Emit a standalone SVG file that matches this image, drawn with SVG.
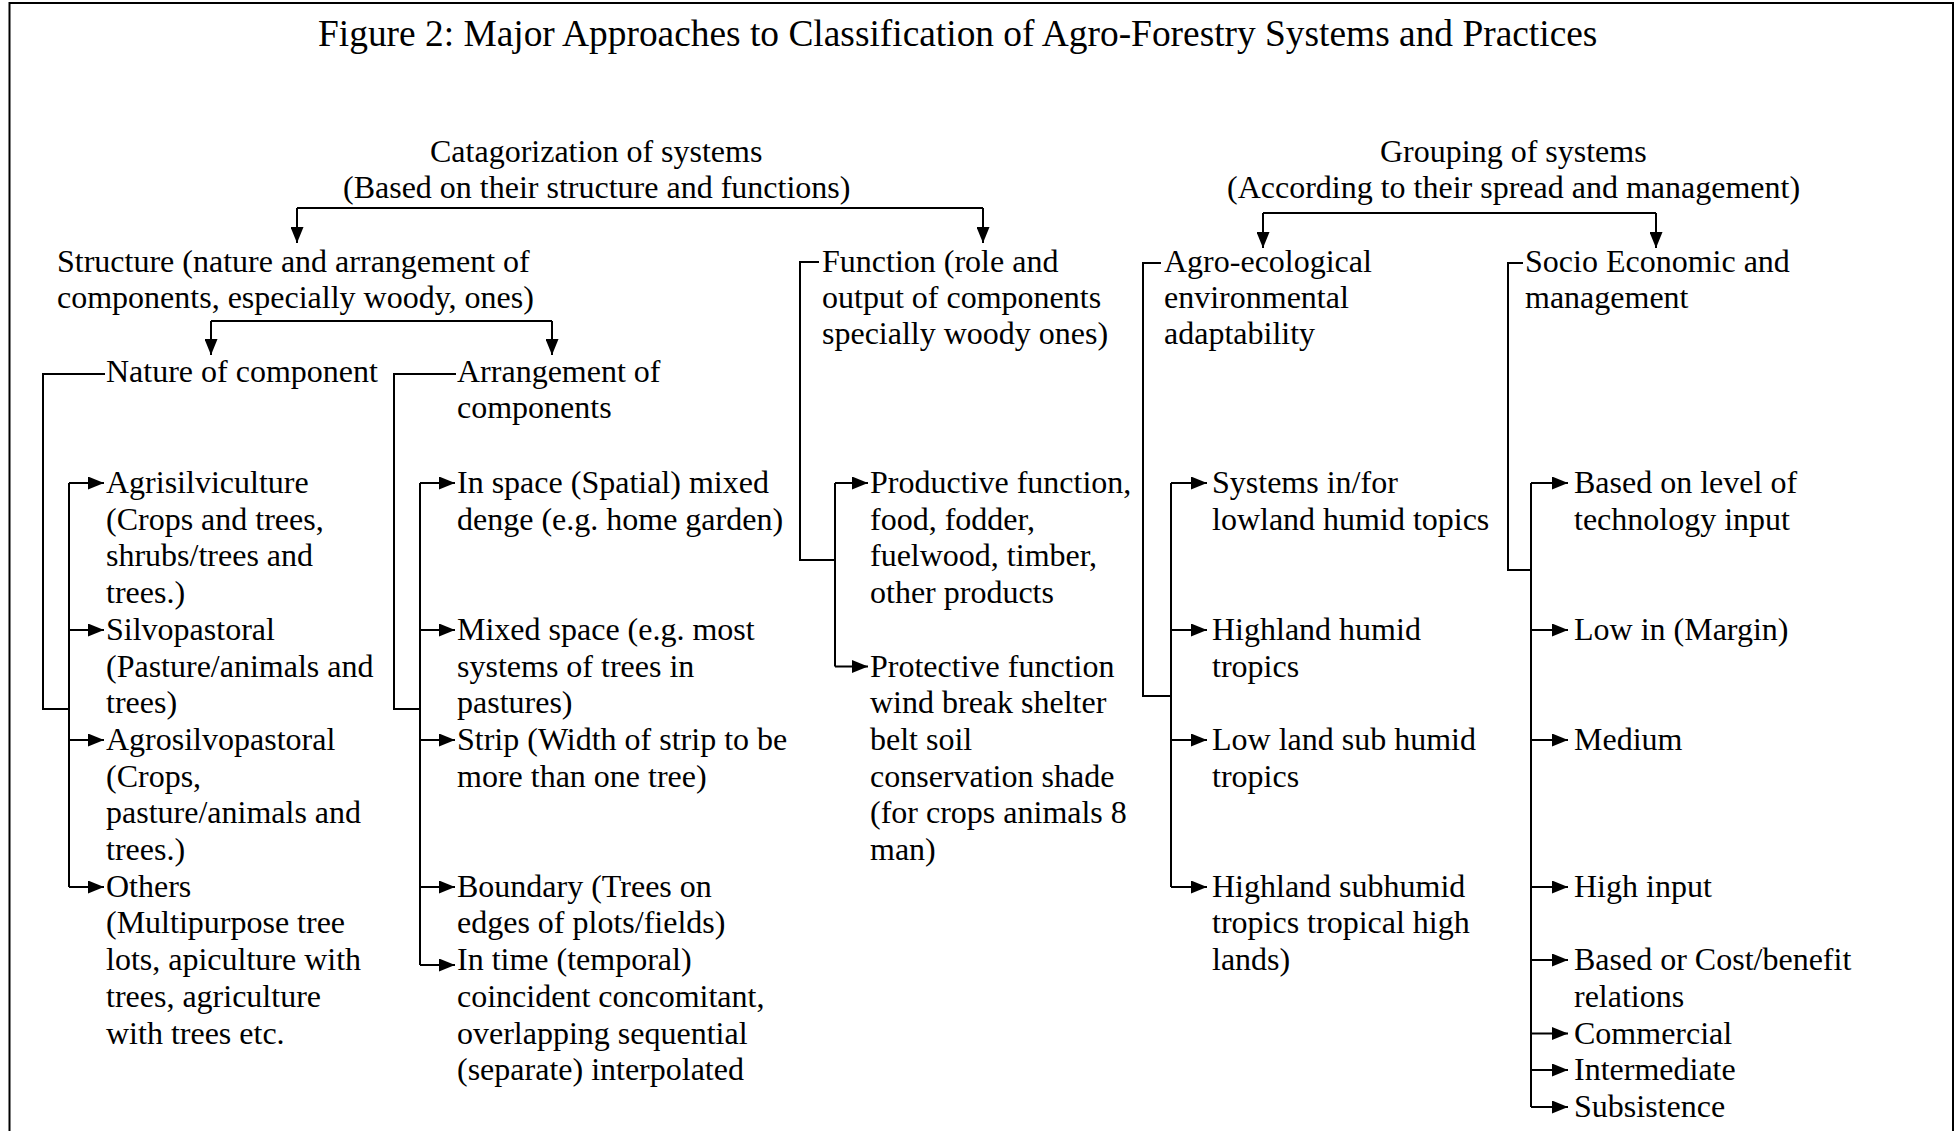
<svg xmlns="http://www.w3.org/2000/svg" width="1957" height="1131" viewBox="0 0 1957 1131">
  <style>
    .t { font-family: "Liberation Serif", "Times New Roman", serif; font-size: 32px; fill: #000; }
    .title { font-family: "Liberation Serif", "Times New Roman", serif; font-size: 37.4px; fill: #000; }
    .ln { fill: none; stroke: #000; stroke-width: 2; }
    .ar { fill: none; stroke: #000; stroke-width: 2; marker-end: url(#ah); }
  </style>
  <defs>
    <marker id="ah" viewBox="0 0 16 13" refX="16" refY="6.5" markerWidth="16" markerHeight="13" markerUnits="userSpaceOnUse" orient="auto">
      <path d="M0,0 L16,6.5 L0,13 z" fill="#000"/>
    </marker>
  </defs>

  <rect width="1957" height="1131" fill="#fff"/>
  <!-- outer frame (open at the bottom edge) -->
  <path class="ln" d="M9.5,1140 V3 H1953 V1140" stroke-width="2.2"/>

  <text id="title" class="title" x="318" y="46">Figure 2: Major Approaches to Classification of Agro-Forestry Systems and Practices</text>

  <!-- connectors -->
  <g id="connectors">
    <!-- categorization split -->
    <path class="ln" d="M297,208 H983"/>
    <path class="ar" d="M297,208 V243"/>
    <path class="ar" d="M983,208 V243"/>
    <!-- grouping split -->
    <path class="ln" d="M1263,213 H1656"/>
    <path class="ar" d="M1263,213 V248"/>
    <path class="ar" d="M1656,213 V248"/>
    <!-- structure split -->
    <path class="ln" d="M211,321 H552"/>
    <path class="ar" d="M211,321 V355"/>
    <path class="ar" d="M552,321 V355"/>

    <!-- nature of component -->
    <path class="ln" d="M105,374 H43 V709 H69"/>
    <path class="ln" d="M69,483 V887"/>
    <path class="ar" d="M69,483 H104"/>
    <path class="ar" d="M69,630 H104"/>
    <path class="ar" d="M69,740 H104"/>
    <path class="ar" d="M69,887 H104"/>

    <!-- arrangement of components -->
    <path class="ln" d="M456,374 H394 V709 H420"/>
    <path class="ln" d="M420,483 V965"/>
    <path class="ar" d="M420,483 H455"/>
    <path class="ar" d="M420,630 H455"/>
    <path class="ar" d="M420,740 H455"/>
    <path class="ar" d="M420,887 H455"/>
    <path class="ar" d="M420,965 H455"/>

    <!-- function -->
    <path class="ln" d="M819,262 H800 V560 H835"/>
    <path class="ln" d="M835,483 V666.5"/>
    <path class="ar" d="M835,483 H868"/>
    <path class="ar" d="M835,666.5 H868"/>

    <!-- agro-ecological -->
    <path class="ln" d="M1161,263 H1143 V696 H1171"/>
    <path class="ln" d="M1171,483 V887"/>
    <path class="ar" d="M1171,483 H1207"/>
    <path class="ar" d="M1171,630 H1207"/>
    <path class="ar" d="M1171,740 H1207"/>
    <path class="ar" d="M1171,887 H1207"/>

    <!-- socio economic -->
    <path class="ln" d="M1523,263 H1508 V570 H1531"/>
    <path class="ln" d="M1531,483 V1107"/>
    <path class="ar" d="M1531,483 H1568"/>
    <path class="ar" d="M1531,630 H1568"/>
    <path class="ar" d="M1531,740 H1568"/>
    <path class="ar" d="M1531,887 H1568"/>
    <path class="ar" d="M1531,960 H1568"/>
    <path class="ar" d="M1531,1033.5 H1568"/>
    <path class="ar" d="M1531,1070 H1568"/>
    <path class="ar" d="M1531,1107 H1568"/>
  </g>

  <!-- top-level headings -->
  <g id="categorization">
    <text class="t" x="430" y="162">Catagorization of systems</text>
    <text class="t" x="343" y="198">(Based on their structure and functions)</text>
  </g>
  <g id="grouping">
    <text class="t" x="1380" y="162">Grouping of systems</text>
    <text class="t" x="1227" y="198">(According to their spread and management)</text>
  </g>

  <!-- second level -->
  <g id="structure">
    <text class="t" x="57" y="272">Structure (nature and arrangement of</text>
    <text class="t" x="57" y="308">components, especially woody, ones)</text>
  </g>
  <g id="function">
    <text class="t" x="822" y="272">Function (role and</text>
    <text class="t" x="822" y="308">output of components</text>
    <text class="t" x="822" y="344">specially woody ones)</text>
  </g>
  <g id="agro-ecological">
    <text class="t" x="1164" y="272">Agro-ecological</text>
    <text class="t" x="1164" y="308">environmental</text>
    <text class="t" x="1164" y="344">adaptability</text>
  </g>
  <g id="socio-economic">
    <text class="t" x="1525" y="272">Socio Economic and</text>
    <text class="t" x="1525" y="308">management</text>
  </g>

  <!-- third level under structure -->
  <g id="nature">
    <text class="t" x="106" y="382">Nature of component</text>
  </g>
  <g id="arrangement">
    <text class="t" x="457" y="382">Arrangement of</text>
    <text class="t" x="457" y="418">components</text>
  </g>

  <!-- nature of component: leaves -->
  <g id="agrisilviculture">
    <text class="t" x="106" y="493">Agrisilviculture</text>
    <text class="t" x="106" y="529.7">(Crops and trees,</text>
    <text class="t" x="106" y="566.4">shrubs/trees and</text>
    <text class="t" x="106" y="603.1">trees.)</text>
  </g>
  <g id="silvopastoral">
    <text class="t" x="106" y="639.8">Silvopastoral</text>
    <text class="t" x="106" y="676.5">(Pasture/animals and</text>
    <text class="t" x="106" y="713.2">trees)</text>
  </g>
  <g id="agrosilvopastoral">
    <text class="t" x="106" y="749.9">Agrosilvopastoral</text>
    <text class="t" x="106" y="786.6">(Crops,</text>
    <text class="t" x="106" y="823.3">pasture/animals and</text>
    <text class="t" x="106" y="860">trees.)</text>
  </g>
  <g id="others">
    <text class="t" x="106" y="896.7">Others</text>
    <text class="t" x="106" y="933.4">(Multipurpose tree</text>
    <text class="t" x="106" y="970.1">lots, apiculture with</text>
    <text class="t" x="106" y="1006.8">trees, agriculture</text>
    <text class="t" x="106" y="1043.5">with trees etc.</text>
  </g>

  <!-- arrangement: leaves -->
  <g id="in-space">
    <text class="t" x="457" y="493">In space (Spatial) mixed</text>
    <text class="t" x="457" y="529.7">denge (e.g. home garden)</text>
  </g>
  <g id="mixed-space">
    <text class="t" x="457" y="639.8">Mixed space (e.g. most</text>
    <text class="t" x="457" y="676.5">systems of trees in</text>
    <text class="t" x="457" y="713.2">pastures)</text>
  </g>
  <g id="strip">
    <text class="t" x="457" y="749.9">Strip (Width of strip to be</text>
    <text class="t" x="457" y="786.6">more than one tree)</text>
  </g>
  <g id="boundary">
    <text class="t" x="457" y="896.7">Boundary (Trees on</text>
    <text class="t" x="457" y="933.4">edges of plots/fields)</text>
  </g>
  <g id="in-time">
    <text class="t" x="457" y="970.1">In time (temporal)</text>
    <text class="t" x="457" y="1006.8">coincident concomitant,</text>
    <text class="t" x="457" y="1043.5">overlapping sequential</text>
    <text class="t" x="457" y="1080.2">(separate) interpolated</text>
  </g>

  <!-- function: leaves -->
  <g id="productive">
    <text class="t" x="870" y="493">Productive function,</text>
    <text class="t" x="870" y="529.7">food, fodder,</text>
    <text class="t" x="870" y="566.4">fuelwood, timber,</text>
    <text class="t" x="870" y="603.1">other products</text>
  </g>
  <g id="protective">
    <text class="t" x="870" y="676.5">Protective function</text>
    <text class="t" x="870" y="713.2">wind break shelter</text>
    <text class="t" x="870" y="749.9">belt soil</text>
    <text class="t" x="870" y="786.6">conservation shade</text>
    <text class="t" x="870" y="823.3">(for crops animals 8</text>
    <text class="t" x="870" y="860">man)</text>
  </g>

  <!-- agro-ecological: leaves -->
  <g id="lowland-humid">
    <text class="t" x="1212" y="493">Systems in/for</text>
    <text class="t" x="1212" y="529.7">lowland humid topics</text>
  </g>
  <g id="highland-humid">
    <text class="t" x="1212" y="639.8">Highland humid</text>
    <text class="t" x="1212" y="676.5">tropics</text>
  </g>
  <g id="lowland-subhumid">
    <text class="t" x="1212" y="749.9">Low land sub humid</text>
    <text class="t" x="1212" y="786.6">tropics</text>
  </g>
  <g id="highland-subhumid">
    <text class="t" x="1212" y="896.7">Highland subhumid</text>
    <text class="t" x="1212" y="933.4">tropics tropical high</text>
    <text class="t" x="1212" y="970.1">lands)</text>
  </g>

  <!-- socio economic: leaves -->
  <g id="technology-input">
    <text class="t" x="1574" y="493">Based on level of</text>
    <text class="t" x="1574" y="529.7">technology input</text>
  </g>
  <g id="low-input"><text class="t" x="1574" y="639.8">Low in (Margin)</text></g>
  <g id="medium"><text class="t" x="1574" y="749.9">Medium</text></g>
  <g id="high-input"><text class="t" x="1574" y="896.7">High input</text></g>
  <g id="cost-benefit">
    <text class="t" x="1574" y="970.1">Based or Cost/benefit</text>
    <text class="t" x="1574" y="1006.8">relations</text>
  </g>
  <g id="commercial"><text class="t" x="1574" y="1043.5">Commercial</text></g>
  <g id="intermediate"><text class="t" x="1574" y="1080.2">Intermediate</text></g>
  <g id="subsistence"><text class="t" x="1574" y="1116.9">Subsistence</text></g>
</svg>
